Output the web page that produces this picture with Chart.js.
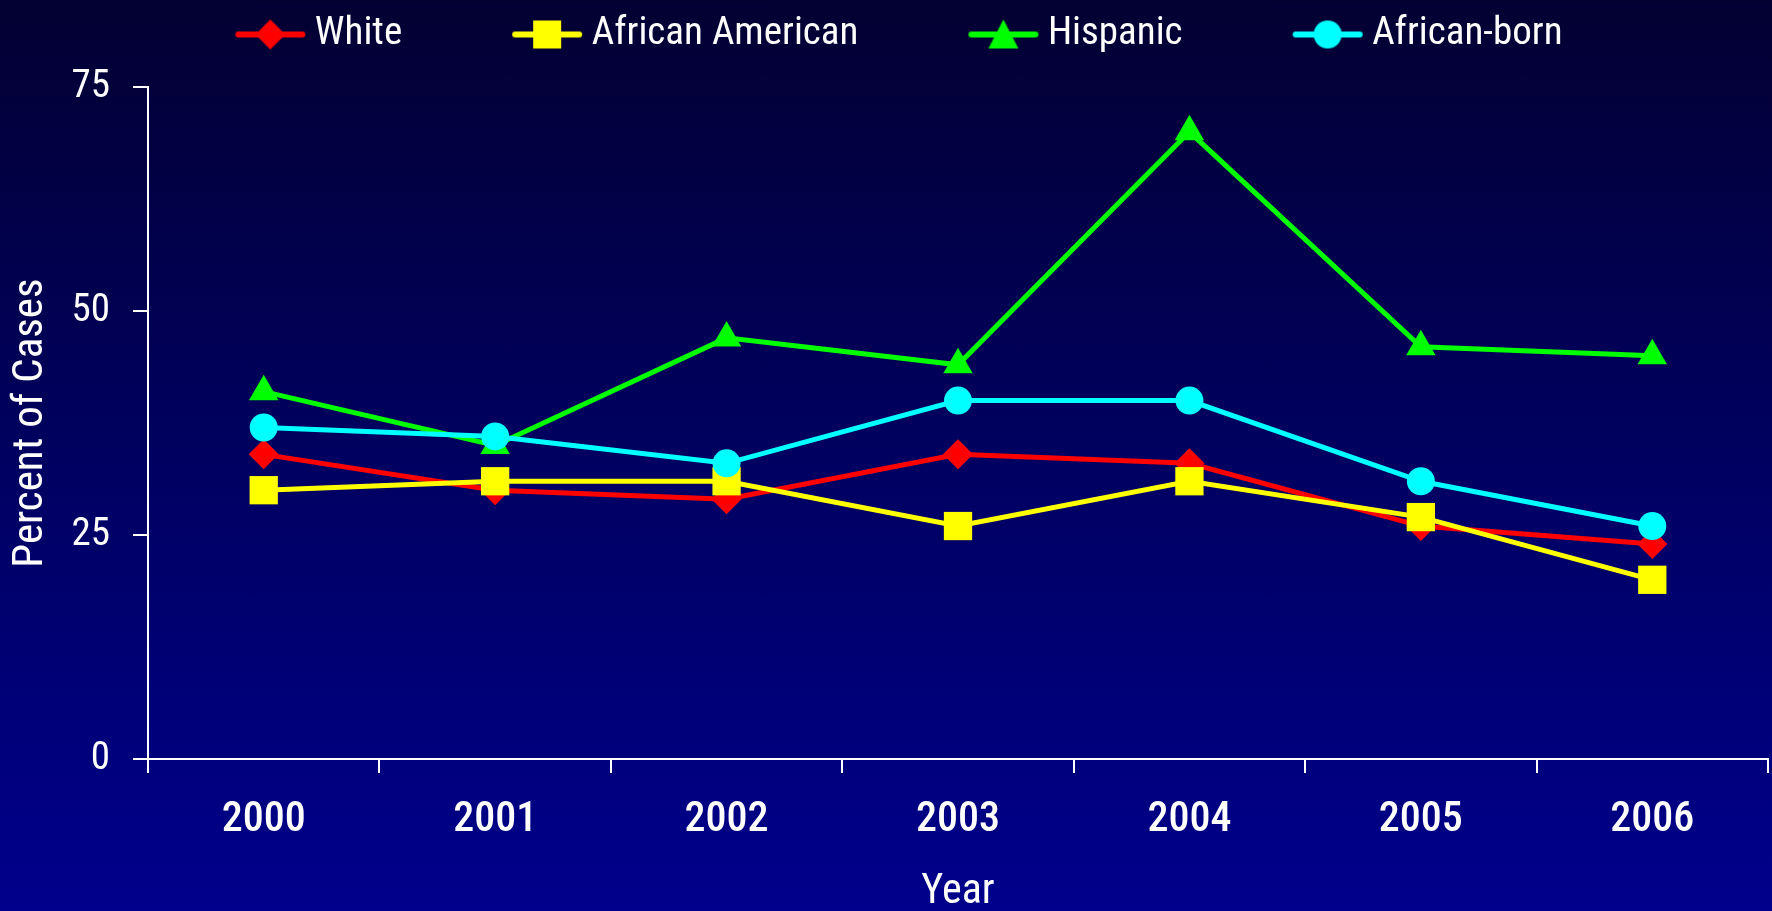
<!DOCTYPE html>
<html><head><meta charset="utf-8">
<script src="https://cdn.jsdelivr.net/npm/chart.js@4/dist/chart.umd.min.js"></script>
<style>
html,body{margin:0;padding:0;width:1772px;height:911px;overflow:hidden;
background:linear-gradient(to bottom,#030032 0%,#00005c 45%,#00008c 100%);}
canvas{display:block;}
</style></head><body>
<canvas id="c" width="1772" height="911"></canvas>
<script>
// ---- data ----
const years = ['2000', '2001', '2002', '2003', '2004', '2005', '2006'];
const seriesNames = ['White', 'African American', 'Hispanic', 'African-born'];
const whiteVals = [34, 30, 29, 34, 33, 26, 24];
const africanAmericanVals = [30, 31, 31, 26, 31, 27, 20];
const hispanicVals = [41, 35, 47, 44, 70, 46, 45];
const africanBornVals = [37, 36, 33, 40, 40, 31, 26];
const yTickValues = [0, 25, 50, 75];
const yAxisTitle = 'Percent of Cases';
const xAxisTitle = 'Year';

// ---- style ----
const FAM = "'Roboto Condensed','Liberation Sans Narrow','DejaVu Sans Condensed',sans-serif";
Chart.defaults.font.family = FAM;
const colors = ['#ff0000', '#ffff00', '#00ff00', '#00ffff'];
const styles = ['rectRot', 'rect', 'triangle', 'circle'];
const radii = [15, 20, 17, 14];

function makeIcon(color, style) {
  const W = 112, H = 40, cx = 76, cy = H / 2;
  const c = document.createElement('canvas');
  c.width = W; c.height = H;
  const ctx = c.getContext('2d');
  ctx.strokeStyle = color; ctx.fillStyle = color;
  ctx.lineWidth = 6; ctx.lineCap = 'round';
  ctx.beginPath(); ctx.moveTo(44, cy); ctx.lineTo(108, cy); ctx.stroke();
  ctx.beginPath();
  if (style === 'rectRot') {
    ctx.moveTo(cx, cy - 15); ctx.lineTo(cx + 15, cy); ctx.lineTo(cx, cy + 15); ctx.lineTo(cx - 15, cy); ctx.closePath();
  } else if (style === 'rect') {
    ctx.rect(cx - 14, cy - 14, 28, 28);
  } else if (style === 'triangle') {
    ctx.moveTo(cx, cy - 15); ctx.lineTo(cx + 15, cy + 14); ctx.lineTo(cx - 15, cy + 14); ctx.closePath();
  } else {
    ctx.arc(cx, cy, 14, 0, Math.PI * 2);
  }
  ctx.fill();
  return c;
}
const icons = colors.map((c, i) => makeIcon(c, styles[i]));

const valueSets = [whiteVals, africanAmericanVals, hispanicVals, africanBornVals];
const datasets = seriesNames.map((name, i) => ({
  label: name,
  data: valueSets[i],
  borderColor: colors[i],
  backgroundColor: colors[i],
  borderWidth: 5,
  pointStyle: styles[i],
  pointRadius: radii[i],
  pointBorderWidth: 0,
  pointBackgroundColor: colors[i],
  tension: 0,
  fill: false,
  order: 4 - i
}));

new Chart(document.getElementById('c'), {
  type: 'line',
  data: { labels: years, datasets },
  options: {
    responsive: false,
    animation: false,
    events: [],
    layout: { autoPadding: false, padding: { top: -65, right: 4, left: 0, bottom: 0 } },
    plugins: {
      tooltip: { enabled: false },
      legend: {
        position: 'top',
        labels: {
          color: '#ffffff',
          font: { size: 39 },
          usePointStyle: true,
          pointStyleWidth: 90,
          padding: 80,
          generateLabels: (chart) => seriesNames.map((n, i) => ({
            text: n,
            fillStyle: colors[i],
            strokeStyle: colors[i],
            lineWidth: 0,
            pointStyle: icons[i],
            fontColor: '#ffffff',
            hidden: false,
            datasetIndex: i
          }))
        }
      },
      subtitle: {
        display: true, text: '', weight: 500, position: 'top',
        font: { size: 1, lineHeight: 1 }, padding: { top: 22, bottom: 0 }
      }
    },
    scales: {
      x: {
        type: 'category',
        offset: true,
        afterFit: (axis) => { axis.height = 152; },
        grid: { display: true, drawOnChartArea: false, drawTicks: true, tickLength: 14, color: '#ffffff', lineWidth: 2, offset: true },
        border: { display: true, color: '#ffffff', width: 2 },
        ticks: { color: '#ffffff', font: { size: 42, weight: 500 }, padding: 22, maxRotation: 0, autoSkip: false },
        title: { display: true, text: xAxisTitle, color: '#ffffff', font: { size: 42, lineHeight: 0.9 }, padding: { top: 0, bottom: 0 } }
      },
      y: {
        min: 0, max: 75,
        afterFit: (axis) => { axis.width = 148; },
        afterBuildTicks: (axis) => { axis.ticks = yTickValues.map(v => ({ value: v })); },
        grid: { display: true, drawOnChartArea: false, drawTicks: true, tickLength: 15, color: '#ffffff', lineWidth: 2 },
        border: { display: true, color: '#ffffff', width: 2 },
        ticks: { color: '#ffffff', font: { size: 39 }, padding: 23 },
        title: { display: true, text: yAxisTitle, color: '#ffffff', font: { size: 43, lineHeight: 1 }, padding: { top: 10, bottom: 0 } }
      }
    }
  }
});
</script>
</body></html>
